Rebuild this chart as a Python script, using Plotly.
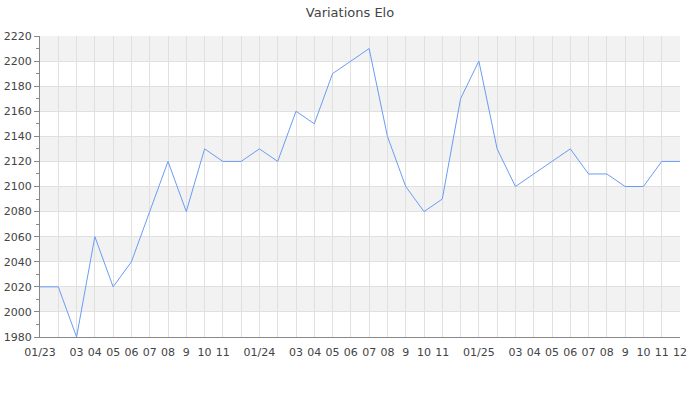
import plotly.graph_objects as go

months = [f"{y}-{m:02d}" for y in (2023, 2024, 2025) for m in range(1, 13)]
month_labels = ["01/23", "", "03", "04", "05", "06", "07", "08", "9", "10", "11", "",
                "01/24", "", "03", "04", "05", "06", "07", "08", "9", "10", "11", "",
                "01/25", "", "03", "04", "05", "06", "07", "08", "9", "10", "11", "12"]
elo = [2020, 2020, 1980, 2060, 2020, 2040, 2080, 2120, 2080, 2130, 2120, 2120,
       2130, 2120, 2160, 2150, 2190, 2200, 2210, 2140, 2100, 2080, 2090, 2170,
       2200, 2130, 2100, 2110, 2120, 2130, 2110, 2110, 2100, 2100, 2120, 2120]
y_min, y_max, y_step = 1980, 2220, 20

FONT = "DejaVu Sans"

fig = go.Figure()
fig.add_trace(go.Scatter(x=months, y=elo, mode="lines",
                         line=dict(color="#6b9bf5", width=1),
                         hoverinfo="x+y", cliponaxis=False))

shapes = []
for lo in range(y_min + y_step, y_max, 2 * y_step):
    shapes.append(dict(type="rect", xref="paper", yref="y", x0=0, x1=1,
                       y0=lo, y1=lo + y_step, fillcolor="#f2f2f2",
                       line=dict(width=0), layer="below"))

fig.update_layout(
    width=700, height=400,
    margin=dict(l=40, r=20, t=36, b=63, autoexpand=False),
    paper_bgcolor="white", plot_bgcolor="white",
    title=dict(text="Variations Elo", x=0.5, xanchor="center",
               y=0.97, yref="container", yanchor="middle", automargin=False,
               font=dict(family=FONT, size=13, color="#444")),
    font=dict(family=FONT, size=11, color="#444"),
    showlegend=False,
    shapes=shapes,
    xaxis=dict(type="category", range=[0, len(months) - 1], automargin=False,
               tickvals=months, ticktext=month_labels, tickangle=0,
               showgrid=True, gridcolor="#e0e0e0", gridwidth=1,
               showline=True, linecolor="#888", linewidth=1,
               ticks="outside", ticklen=5, tickcolor="rgba(0,0,0,0)", zeroline=False,
               tickfont=dict(family=FONT, size=11, color="#444")),
    yaxis=dict(range=[y_min, y_max], dtick=y_step, tick0=y_min, automargin=False,
               showgrid=True, gridcolor="#e0e0e0", gridwidth=1,
               showline=True, linecolor="#888", linewidth=1,
               ticks="outside", ticklen=5, tickcolor="#888",
               minor=dict(dtick=y_step / 2, ticks="outside", ticklen=3,
                          tickcolor="#888", showgrid=False),
               zeroline=False,
               tickfont=dict(family=FONT, size=11, color="#444")),
)

fig.write_html("out.html", config={"displayModeBar": False},
               post_script="document.body.style.margin='0';document.body.style.overflow='hidden';")
